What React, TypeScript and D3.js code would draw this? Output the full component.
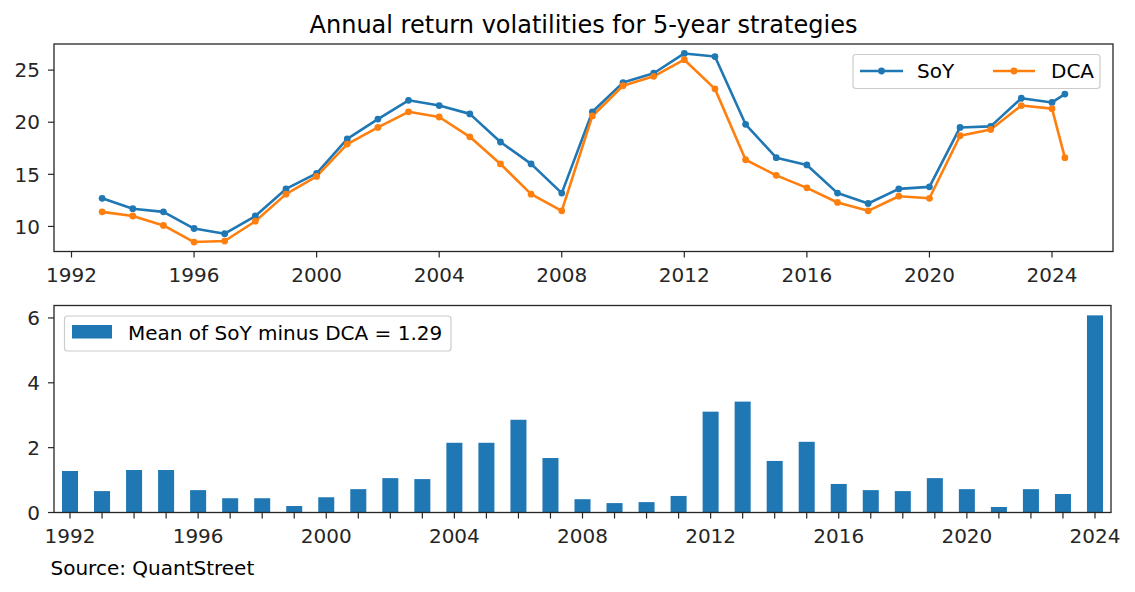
import { line, scaleBand, scaleLinear, extent } from 'd3';

const years = [
  1993, 1994, 1995, 1996, 1997, 1998, 1999, 2000, 2001, 2002, 2003, 2004, 2005, 2006, 2007, 2008,
  2009, 2010, 2011, 2012, 2013, 2014, 2015, 2016, 2017, 2018, 2019, 2020, 2021, 2022, 2023, 2024, 2024.42,
];
const soyValues = [
  12.7, 11.7, 11.4, 9.8, 9.3, 11.0, 13.6, 15.1, 18.4, 20.3, 22.1, 21.6, 20.8, 18.1, 16.0, 13.2,
  21.0, 23.8, 24.7, 26.6, 26.3, 19.8, 16.6, 15.9, 13.2, 12.2, 13.6, 13.8, 19.5, 19.6, 22.3, 21.9, 22.7,
];
const dcaValues = [
  11.4, 11.0, 10.1, 8.5, 8.6, 10.5, 13.1, 14.8, 17.9, 19.5, 21.0, 20.5, 18.6, 16.0, 13.1, 11.5,
  20.6, 23.5, 24.4, 26.0, 23.2, 16.4, 14.9, 13.7, 12.3, 11.5, 12.9, 12.7, 18.7, 19.3, 21.6, 21.3, 16.6,
];
const barLabels = [
  '1992', '1993', '1994', '1995', '1996', '1997', '1998', '1999', '2000', '2001', '2002', '2003',
  '2004', '2005', '2006', '2007', '2008', '2009', '2010', '2011', '2012', '2013', '2014', '2015',
  '2016', '2017', '2018', '2019', '2020', '2021', '2022', '2023', '2024',
];
const diffValues = [
  1.28, 0.66, 1.31, 1.31, 0.69, 0.44, 0.44, 0.2, 0.47, 0.72, 1.06, 1.03, 2.15, 2.15, 2.86, 1.68,
  0.41, 0.29, 0.32, 0.51, 3.11, 3.42, 1.59, 2.18, 0.88, 0.69, 0.66, 1.06, 0.72, 0.17, 0.72, 0.57, 6.08,
];
const meanDiff = 1.29;
const topXTicks = [1992, 1996, 2000, 2004, 2008, 2012, 2016, 2020, 2024];
const topYTicks = [10, 15, 20, 25];
const bottomYTicks = [0, 2, 4, 6];

const width = 1135;
const height = 592;
const top = { left: 54, right: 1113, top: 44, bottom: 251.5 };
const bottom = { left: 54, right: 1111, top: 305.5, bottom: 512.5 };
const font = 'DejaVu Sans, sans-serif';
const ink = '#262626';
const blue = '#1f77b4';
const orange = '#ff7f0e';

function padded([lo, hi]: [number, number]): [number, number] {
  const m = (hi - lo) * 0.05;
  return [lo - m, hi + m];
}

export default function App() {
  const xScale = scaleLinear()
    .domain(padded(extent(years) as [number, number]))
    .range([top.left, top.right]);
  const yScale = scaleLinear()
    .domain(padded(extent([...soyValues, ...dcaValues]) as [number, number]))
    .range([top.bottom, top.top]);

  const pathFor = (values: number[]) =>
    line<number>()
      .x((_, i) => xScale(years[i]))
      .y(v => yScale(v))(values) ?? '';

  const band = scaleBand<string>()
    .domain(barLabels)
    .range([bottom.left, bottom.right])
    .paddingInner(0.5)
    .paddingOuter(0.25);
  const yBar = scaleLinear()
    .domain([0, Math.max(...diffValues) * 1.05])
    .range([bottom.bottom, bottom.top]);

  const tickText = { fontFamily: font, fontSize: 20, fill: ink };

  return (
    <svg
      width={width}
      height={height}
      viewBox={`0 0 ${width} ${height}`}
      style={{ position: 'absolute', left: 0, top: 0, background: '#fff' }}
    >
      <rect width={width} height={height} fill="#fff" />
      <text x={(top.left + top.right) / 2} y={33} textAnchor="middle" fontFamily={font} fontSize={24} fill="#000">
        Annual return volatilities for 5-year strategies
      </text>

      {/* top panel */}
      {topXTicks.map(t => (
        <g key={t}>
          <line x1={xScale(t)} x2={xScale(t)} y1={top.bottom} y2={top.bottom + 6} stroke={ink} strokeWidth={1.2} />
          <text x={xScale(t)} y={top.bottom + 30} textAnchor="middle" {...tickText}>{t}</text>
        </g>
      ))}
      {topYTicks.map(t => (
        <g key={t}>
          <line x1={top.left - 6} x2={top.left} y1={yScale(t)} y2={yScale(t)} stroke={ink} strokeWidth={1.2} />
          <text x={top.left - 14} y={yScale(t)} dy="0.36em" textAnchor="end" {...tickText}>{t}</text>
        </g>
      ))}
      <path d={pathFor(soyValues)} fill="none" stroke={blue} strokeWidth={2.6} strokeLinejoin="round" />
      <path d={pathFor(dcaValues)} fill="none" stroke={orange} strokeWidth={2.6} strokeLinejoin="round" />
      {soyValues.map((v, i) => (
        <circle key={`s${i}`} cx={xScale(years[i])} cy={yScale(v)} r={3.4} fill={blue} />
      ))}
      {dcaValues.map((v, i) => (
        <circle key={`d${i}`} cx={xScale(years[i])} cy={yScale(v)} r={3.4} fill={orange} />
      ))}
      <rect x={top.left} y={top.top} width={top.right - top.left} height={top.bottom - top.top} fill="none" stroke={ink} strokeWidth={1.3} />

      <g>
        <rect x={853} y={54.5} width={247} height={34} rx={3} fill="#fff" fillOpacity={0.8} stroke="#cccccc" strokeWidth={1.2} />
        <line x1={860} x2={903} y1={71} y2={71} stroke={blue} strokeWidth={2.6} />
        <circle cx={881.5} cy={71} r={3.4} fill={blue} />
        <text x={917} y={78} fontFamily={font} fontSize={20} fill="#000">SoY</text>
        <line x1={993} x2={1035} y1={71} y2={71} stroke={orange} strokeWidth={2.6} />
        <circle cx={1014} cy={71} r={3.4} fill={orange} />
        <text x={1051} y={78} fontFamily={font} fontSize={20} fill="#000">DCA</text>
      </g>

      {/* bottom panel */}
      {diffValues.map((v, i) => (
        <rect
          key={barLabels[i]}
          x={band(barLabels[i])}
          y={yBar(v)}
          width={band.bandwidth()}
          height={yBar(0) - yBar(v)}
          fill={blue}
        />
      ))}
      {barLabels.map((label, i) => {
        const cx = (band(label) ?? 0) + band.bandwidth() / 2;
        return (
          <g key={label}>
            <line x1={cx} x2={cx} y1={bottom.bottom} y2={bottom.bottom + 6} stroke={ink} strokeWidth={1.2} />
            {i % 4 === 0 && (
              <text x={cx} y={bottom.bottom + 30} textAnchor="middle" {...tickText}>{label}</text>
            )}
          </g>
        );
      })}
      {bottomYTicks.map(t => (
        <g key={t}>
          <line x1={bottom.left - 6} x2={bottom.left} y1={yBar(t)} y2={yBar(t)} stroke={ink} strokeWidth={1.2} />
          <text x={bottom.left - 14} y={yBar(t)} dy="0.36em" textAnchor="end" {...tickText}>{t}</text>
        </g>
      ))}
      <rect x={bottom.left} y={bottom.top} width={bottom.right - bottom.left} height={bottom.bottom - bottom.top} fill="none" stroke={ink} strokeWidth={1.3} />

      <g>
        <rect x={64.5} y={316} width={386.5} height={35} rx={3} fill="#fff" fillOpacity={0.8} stroke="#cccccc" strokeWidth={1.2} />
        <rect x={72} y={325} width={40} height={13.5} fill={blue} />
        <text x={128} y={340} fontFamily={font} fontSize={20} fill="#000">
          {`Mean of SoY minus DCA = ${meanDiff.toFixed(2)}`}
        </text>
      </g>

      <text x={50.5} y={575} fontFamily={font} fontSize={20} fill="#000">Source: QuantStreet</text>
    </svg>
  );
}
